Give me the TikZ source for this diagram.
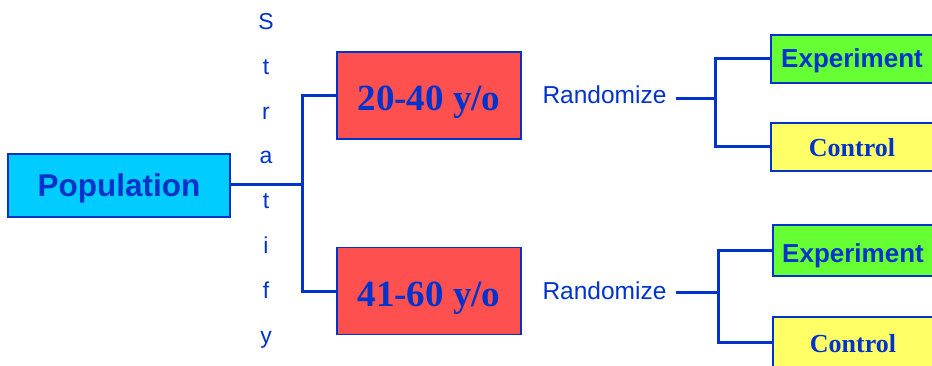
\documentclass[tikz,border=0pt]{standalone}
\usepackage{fontspec}
\setmainfont{Liberation Serif}
\setsansfont{Liberation Sans}
\definecolor{dblue}{RGB}{0,51,204}
\definecolor{cyanfill}{RGB}{0,204,255}
\definecolor{redfill}{RGB}{255,80,80}
\definecolor{greenfill}{RGB}{102,255,51}
\definecolor{yellowfill}{RGB}{255,255,102}
\tikzset{
  conn/.style={draw=dblue, line width=3pt},
  boxbase/.style={draw=dblue, line width=1.3pt, inner sep=0pt, text=dblue, anchor=center, text depth=0pt},
  popbox/.style={boxbase, fill=cyanfill, minimum width=222pt, minimum height=63pt, text height=23pt, font=\sffamily\bfseries\fontsize{31.5}{31.5}\selectfont},
  agebox/.style={boxbase, fill=redfill, minimum width=184pt, minimum height=87pt, text height=31pt, font=\rmfamily\bfseries\fontsize{37}{37}\selectfont},
  expbox/.style={boxbase, fill=greenfill, font=\sffamily\bfseries\fontsize{26}{26}\selectfont},
  ctlbox/.style={boxbase, fill=yellowfill, text height=20pt, font=\rmfamily\bfseries\fontsize{26}{26}\selectfont},
  rlabel/.style={text=dblue, inner sep=0pt, outer xsep=10pt, font=\sffamily\fontsize{24.5}{24.5}\selectfont},
  sletter/.style={text=dblue, inner sep=0pt, anchor=base, font=\sffamily\fontsize{23}{23}\selectfont},
}
\begin{document}
\begin{tikzpicture}[x=1pt,y=-1pt]
\useasboundingbox (0,0) rectangle (932,366);
\fill[white] (0,0) rectangle (932,366);
% Stratify letters
\foreach \ch [count=\i from 0] in {S,t,r,a,t,i,f,y}{
  \node[sletter] (s\i) at (266,{29.5+44.8*\i}) {\ch};
}
\node[popbox] (pop) at (119,185.5) {Population};
\node[agebox] (b1) at (429,95.5) {20-40 y/o};
\node[agebox] (b2) at (429,291) {41-60 y/o};
\node[rlabel] (r1) at (604.5,95) {Randomize};
\node[rlabel] (r2) at (604.5,290.5) {Randomize};
\node[expbox, minimum width=162pt, minimum height=48pt, text height=18pt] (e1) at (852,59) {Experiment};
\node[ctlbox, minimum width=162pt, minimum height=48pt] (c1) at (852,147) {Control};
\node[expbox, minimum width=160pt, minimum height=51pt, text height=23pt] (e2) at (853,250.5) {Experiment};
\node[ctlbox, minimum width=160pt, minimum height=50pt] (c2) at (853,342) {Control};
\coordinate (j) at (302,184.5);
\coordinate (k1) at (715,99);
\coordinate (k2) at (718,292);
\draw[conn] (pop.east |- j) -- (j);
\draw[conn] (b1.west) -| (j) |- (b2.west);
\draw[conn] (r1.east |- k1) -- (k1);
\draw[conn] (e1.west) -| (k1) |- (c1.west);
\draw[conn] (r2.east |- k2) -- (k2);
\draw[conn] (e2.west) -| (k2) |- (c2.west);
\end{tikzpicture}
\end{document}
